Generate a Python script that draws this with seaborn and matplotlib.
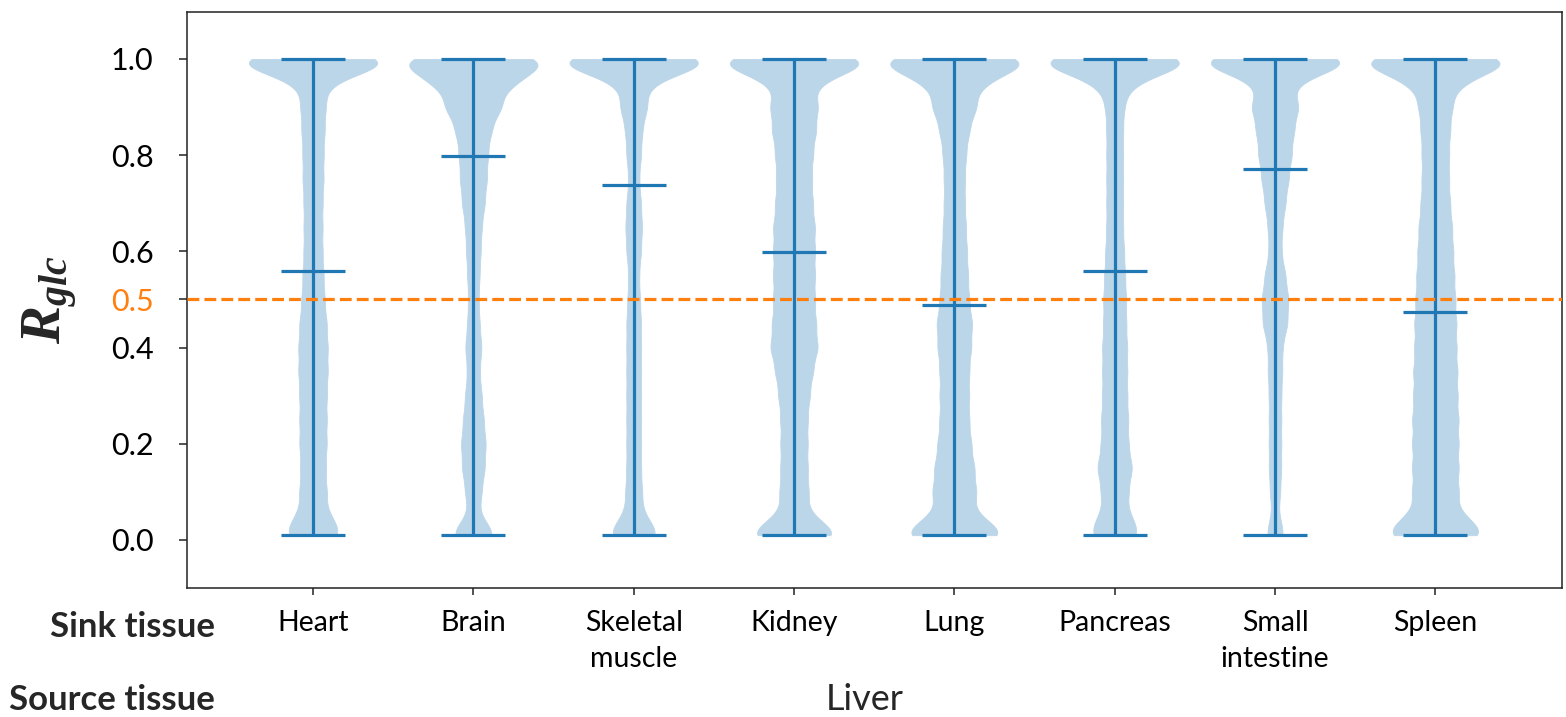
import numpy as np
import pandas as pd
import matplotlib
matplotlib.use("Agg")
import matplotlib.pyplot as plt
import seaborn as sns

# Sink tissues receiving glucose from the liver (x categories)
TISSUES = ["Heart", "Brain", "Skeletal\nmuscle", "Kidney", "Lung",
           "Pancreas", "Small\nintestine", "Spleen"]
SOURCE_TISSUE = "Liver"

# R_glc levels at which the sampled solutions are binned
R_LEVELS = [0.01, 0.05, 0.10, 0.15, 0.20, 0.25, 0.30, 0.35, 0.40, 0.45, 0.50,
            0.55, 0.60, 0.65, 0.70, 0.75, 0.80, 0.85, 0.90, 0.95, 0.99, 1.00]

# Number of sampled solutions at each R_glc level, per sink tissue
HEART = [24, 14, 13, 12, 13, 13, 13, 14, 14, 13, 11,
         10, 9, 9, 9, 10, 10, 11, 12, 14, 45, 30]
BRAIN = [20, 5, 8, 11, 12, 10, 8, 6, 8, 6, 5,
         6, 7, 8, 11, 13, 14, 17, 27, 35, 40, 30]
SKELETAL_MUSCLE = [22, 9, 8, 7, 7, 7, 7, 7, 7, 7, 6,
                   5, 7, 8, 7, 5, 7, 8, 13, 14, 45, 30]
KIDNEY = [40, 14, 14, 13, 13, 13, 15, 18, 23, 21, 20,
          20, 20, 20, 18, 17, 18, 21, 23, 20, 44, 30]
LUNG = [45, 19, 21, 19, 16, 14, 14, 14, 16, 17, 14,
        13, 12, 11, 10, 10, 11, 14, 21, 25, 42, 30]
PANCREAS = [21, 13, 13, 17, 13, 13, 12, 12, 12, 11, 11,
            10, 9, 8, 8, 8, 8, 8, 9, 16, 45, 30]
SMALL_INTESTINE = [8, 3, 5, 6, 6, 6, 6, 7, 7, 12, 13,
                   10, 6, 7, 10, 13, 16, 18, 23, 17, 40, 35]
SPLEEN = [43, 23, 22, 22, 22, 22, 21, 21, 20, 20, 19,
          18, 17, 16, 14, 13, 13, 14, 16, 22, 43, 30]

# Mean R_glc of each sink tissue
MEANS = [0.560, 0.799, 0.738, 0.599, 0.488, 0.560, 0.771, 0.475]

THRESHOLD = 0.5
Y_TICKS = [0.0, 0.2, 0.4, 0.5, 0.6, 0.8, 1.0]

COUNTS = [HEART, BRAIN, SKELETAL_MUSCLE, KIDNEY, LUNG, PANCREAS,
          SMALL_INTESTINE, SPLEEN]

BLUE = "#1f77b4"
BODY = "#bcd6e9"
ORANGE = "#ff7f0e"
KDE_BANDWIDTH = 0.025

sns.set_theme(style="ticks")
plt.rcParams["font.family"] = ["Lato", "DejaVu Sans"]
plt.rcParams.update({
    "mathtext.fontset": "custom",
    "mathtext.it": "Liberation Serif:italic:bold",
    "mathtext.rm": "Liberation Serif:bold",
    "mathtext.bf": "Liberation Serif:italic:bold",
    "axes.edgecolor": "#222222",
    "axes.linewidth": 1.1,
})

df = pd.concat(
    [pd.DataFrame({"tissue": t, "r": np.repeat(R_LEVELS, c)})
     for t, c in zip(TISSUES, COUNTS)],
    ignore_index=True,
)

W, H = 1566, 717
fig = plt.figure(figsize=(W / 100, H / 100), dpi=100)
ax = fig.add_axes([187 / W, 1 - 588 / H, (1562 - 187) / W, (588 - 12) / H])

sns.violinplot(
    data=df, x="tissue", y="r", order=TISSUES, color=BODY, saturation=1,
    inner=None, cut=0, density_norm="width", width=0.8,
    linewidth=0.6, linecolor=BODY, gridsize=500,
    bw_method=lambda k: KDE_BANDWIDTH / np.sqrt(np.cov(k.dataset)),
    ax=ax,
)

# extrema bars and means, as in a matplotlib-style violin plot
stats = df.groupby("tissue", sort=False)["r"].agg(["min", "max"]).reindex(TISSUES)
pos = np.arange(len(TISSUES))
lw = 2.3
ax.vlines(pos, stats["min"], stats["max"], color=BLUE, lw=lw, zorder=3)
for ys in (stats["min"], stats["max"], MEANS):
    ax.hlines(ys, pos - 0.2, pos + 0.2, color=BLUE, lw=lw, zorder=3)

ax.axhline(THRESHOLD, color=ORANGE, ls="--", lw=2.3, zorder=4)

ax.set_xlim(-0.786, 7.79)
ax.set_ylim(-0.0998, 1.0977)
ax.set_yticks(Y_TICKS)
ax.set_yticklabels([f"{v:.1f}" for v in Y_TICKS])
ax.set_xlabel("")
ax.set_ylabel("")

ax.tick_params(axis="y", length=6, width=1.1, pad=18, labelsize=22, colors="#222222",
               labelcolor="black")
ax.tick_params(axis="x", length=5, width=1.1, pad=11, labelsize=20.5, colors="#222222",
               labelcolor="black")
for lab in ax.get_xticklabels():
    lab.set_linespacing(1.45)

i_thr = Y_TICKS.index(THRESHOLD)
ax.get_yticklabels()[i_thr].set_color(ORANGE)
ax.yaxis.get_major_ticks()[i_thr].tick1line.set_color(ORANGE)

for s in ax.spines.values():
    s.set_visible(True)

fig.text(50 / W, 1 - 300 / H, r"$R_{glc}$", rotation=90, ha="center",
         va="center", fontsize=41)
fig.text(215 / W, 1 - 627 / H, "Sink tissue", ha="right", va="center",
         fontsize=25, fontweight="bold")
fig.text(215 / W, 1 - 700 / H, "Source tissue", ha="right", va="center",
         fontsize=25, fontweight="bold")
fig.text(864.5 / W, 1 - 699 / H, SOURCE_TISSUE, ha="center", va="center",
         fontsize=26)

fig.savefig("out.png", dpi=100)
